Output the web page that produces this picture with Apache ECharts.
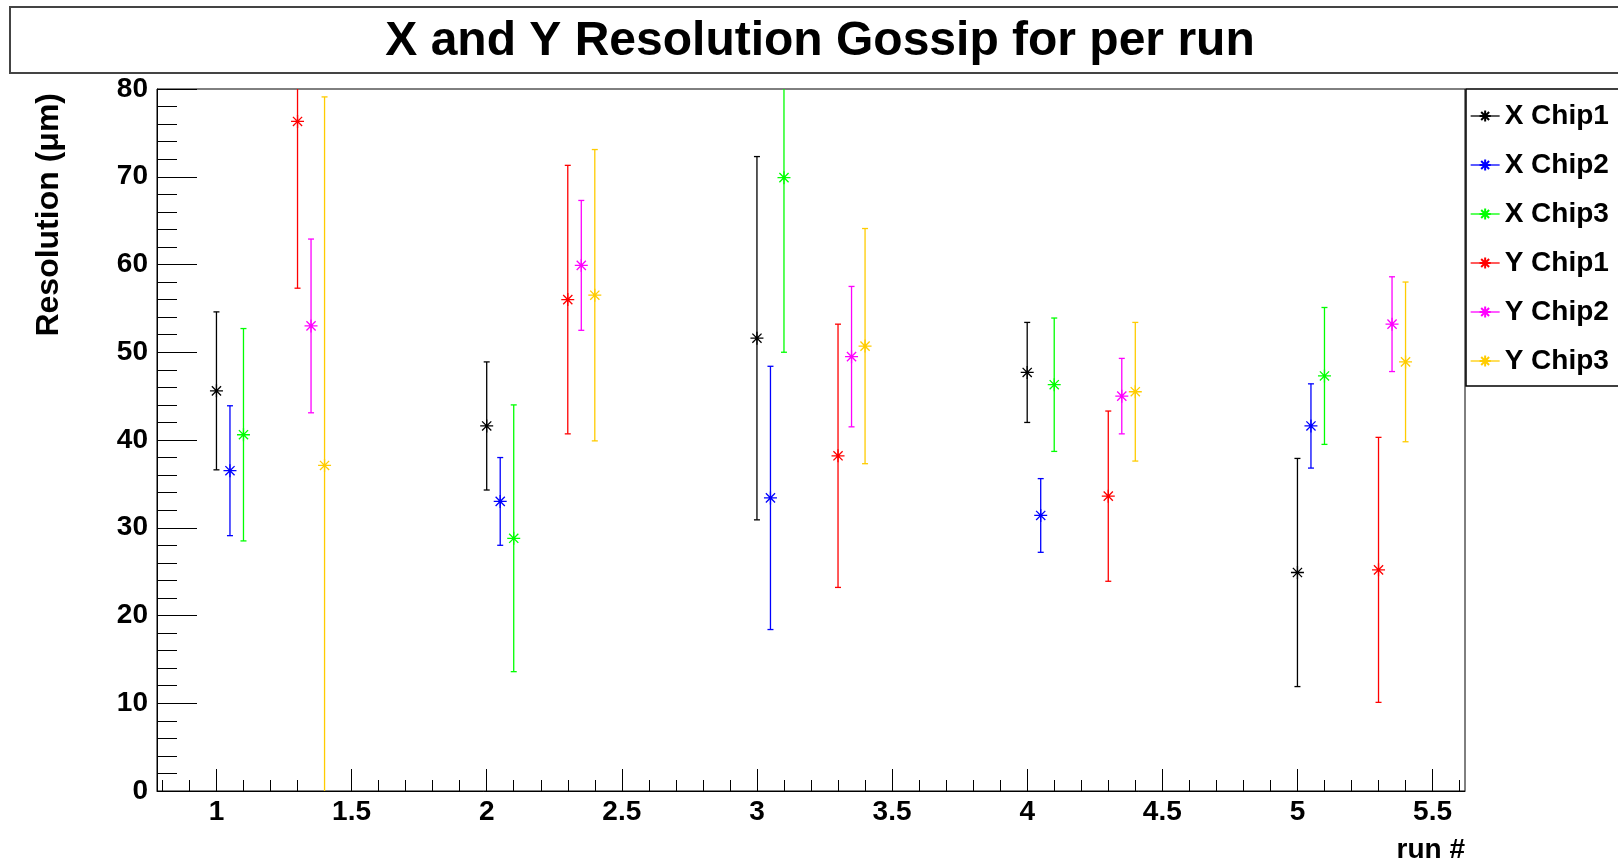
<!DOCTYPE html>
<html>
<head>
<meta charset="utf-8">
<script src="https://cdn.jsdelivr.net/npm/echarts@6/dist/echarts.min.js"></script>
<style>
html,body{margin:0;padding:0;background:#fff;}
#chart{width:1618px;height:862px;}
</style>
</head>
<body>
<div id="chart"></div>
<script>
// ---------------- data ----------------
const chartTitle = 'X and Y Resolution Gossip for per run';
const xAxisName = 'run #';
const yAxisName = 'Resolution (\u03bcm)';
const seriesNames = ['X Chip1', 'X Chip2', 'X Chip3', 'Y Chip1', 'Y Chip2', 'Y Chip3'];
const seriesColors = ['#000000', '#0000ff', '#00ff00', '#ff0000', '#ff00ff', '#ffcc00'];

const xChip1Run = [1, 2, 3, 4, 5];
const xChip1Val = [45.6, 41.6, 51.6, 47.7, 24.9];
const xChip1Err = [9.0, 7.3, 20.7, 5.7, 13.0];

const xChip2Run = [1.05, 2.05, 3.05, 4.05, 5.05];
const xChip2Val = [36.5, 33.0, 33.4, 31.4, 41.6];
const xChip2Err = [7.4, 5.0, 15.0, 4.2, 4.8];

const xChip3Run = [1.1, 2.1, 3.1, 4.1, 5.1];
const xChip3Val = [40.6, 28.8, 69.9, 46.3, 47.3];
const xChip3Err = [12.1, 15.2, 19.9, 7.6, 7.8];

const yChip1Run = [1.3, 2.3, 3.3, 4.3, 5.3];
const yChip1Val = [76.3, 56.0, 38.2, 33.6, 25.2];
const yChip1Err = [19.0, 15.3, 15.0, 9.7, 15.1];

const yChip2Run = [1.35, 2.35, 3.35, 4.35, 5.35];
const yChip2Val = [53.0, 59.9, 49.5, 45.0, 53.2];
const yChip2Err = [9.9, 7.4, 8.0, 4.3, 5.4];

const yChip3Run = [1.4, 2.4, 3.4, 4.4, 5.4];
const yChip3Val = [37.1, 56.5, 50.7, 45.5, 48.9];
const yChip3Err = [42.0, 16.6, 13.4, 7.9, 9.1];

const xMajorTicks = [1, 1.5, 2, 2.5, 3, 3.5, 4, 4.5, 5, 5.5];
const xMinorTicks = [0.8, 0.9, 1.1, 1.2, 1.3, 1.4, 1.6, 1.7, 1.8, 1.9, 2.1, 2.2, 2.3, 2.4,
  2.6, 2.7, 2.8, 2.9, 3.1, 3.2, 3.3, 3.4, 3.6, 3.7, 3.8, 3.9, 4.1, 4.2, 4.3, 4.4,
  4.6, 4.7, 4.8, 4.9, 5.1, 5.2, 5.3, 5.4, 5.6];
const xMin = 0.78, xMax = 5.62;
const yMin = 0, yMax = 80, yStep = 10;

// ---------------- chart ----------------
const groups = [
  [xChip1Run, xChip1Val, xChip1Err],
  [xChip2Run, xChip2Val, xChip2Err],
  [xChip3Run, xChip3Val, xChip3Err],
  [yChip1Run, yChip1Val, yChip1Err],
  [yChip2Run, yChip2Val, yChip2Err],
  [yChip3Run, yChip3Val, yChip3Err]
];

const boldFont = "'Liberation Sans', Arial, sans-serif";
const starPath = 'path://M6,0L6,12M0,6L12,6M1.76,1.76L10.24,10.24M1.76,10.24L10.24,1.76';

const series = [];
groups.forEach(function (g, i) {
  const color = seriesColors[i];
  const errData = g[0].map(function (x, k) { return [x, g[1][k], g[2][k]]; });
  series.push({
    name: seriesNames[i] + ' error',
    type: 'custom',
    xAxisIndex: 0, yAxisIndex: 0,
    clip: true,
    dimensions: ['x', 'y', 'err'],
    encode: { x: 0, y: 1 },
    data: errData,
    z: 2,
    renderItem: function (params, api) {
      const x = api.value(0), y = api.value(1), e = api.value(2);
      const top = api.coord([x, y + e]);
      const bot = api.coord([x, y - e]);
      const hw = 3;
      const st = { stroke: color, lineWidth: 1.3 };
      return {
        type: 'group',
        children: [
          { type: 'line', shape: { x1: top[0], y1: top[1], x2: bot[0], y2: bot[1] }, style: st },
          { type: 'line', shape: { x1: top[0] - hw, y1: top[1], x2: top[0] + hw, y2: top[1] }, style: st },
          { type: 'line', shape: { x1: bot[0] - hw, y1: bot[1], x2: bot[0] + hw, y2: bot[1] }, style: st }
        ]
      };
    }
  });
});
groups.forEach(function (g, i) {
  const color = seriesColors[i];
  series.push({
    name: seriesNames[i],
    type: 'line',
    xAxisIndex: 0, yAxisIndex: 0,
    data: g[0].map(function (x, k) { return [x, g[1][k]]; }),
    symbol: starPath,
    symbolSize: 13,
    showSymbol: true,
    showAllSymbol: true,
    z: 3,
    color: color,
    itemStyle: { color: color, borderColor: color, borderWidth: 1.3 },
    lineStyle: { color: color, width: 0, opacity: 0 }
  });
});

const chart = echarts.init(document.getElementById('chart'), null, { renderer: 'canvas' });
chart.setOption({
  animation: false,
  backgroundColor: '#ffffff',
  title: {
    text: chartTitle,
    left: 820,
    top: 42,
    padding: 0,
    textAlign: 'center',
    textVerticalAlign: 'middle',
    textStyle: { fontFamily: boldFont, fontWeight: 'bold', fontSize: 48, color: '#000' },
    z: 10
  },
  graphic: [{
    type: 'rect',
    shape: { x: 10, y: 7, width: 1700, height: 66 },
    style: { fill: '#ffffff', stroke: '#444444', lineWidth: 2 },
    z: 0
  }],
  legend: {
    data: seriesNames,
    orient: 'vertical',
    left: 1466,
    top: 89,
    padding: [13, 40, 11, 4],
    itemWidth: 29,
    itemHeight: 14,
    itemGap: 21,
    borderColor: '#000',
    borderWidth: 1.5,
    backgroundColor: '#fff',
    textStyle: { fontFamily: boldFont, fontWeight: 'bold', fontSize: 28, color: '#000', lineHeight: 28 },
    lineStyle: { width: 1.3, opacity: 1 }
  },
  grid: {
    left: 157, top: 89, right: 153, bottom: 71,
    outerBoundsMode: 'none',
    containLabel: false,
    show: true, borderColor: '#000', borderWidth: 1, backgroundColor: 'transparent'
  },
  xAxis: [{
    type: 'value',
    min: xMin, max: xMax,
    position: 'bottom',
    name: xAxisName,
    nameLocation: 'end',
    nameGap: 0,
    nameTextStyle: { fontFamily: boldFont, fontWeight: 'bold', fontSize: 28, color: '#000', align: 'right', verticalAlign: 'top', padding: [45, 0, 0, 0] },
    axisLine: { show: true, onZero: false, lineStyle: { color: '#000', width: 1 } },
    axisTick: { show: true, inside: true, length: 22, customValues: xMajorTicks, lineStyle: { color: '#000', width: 1 } },
    axisLabel: { show: true, customValues: xMajorTicks, margin: 7, fontFamily: boldFont, fontWeight: 'bold', fontSize: 28, color: '#000' },
    splitLine: { show: false }
  }, {
    type: 'value',
    min: xMin, max: xMax,
    position: 'bottom',
    axisLine: { show: false },
    axisTick: { show: true, inside: true, length: 11, customValues: xMinorTicks, lineStyle: { color: '#000', width: 1 } },
    axisLabel: { show: false },
    splitLine: { show: false }
  }],
  yAxis: {
    type: 'value',
    min: yMin, max: yMax, interval: yStep,
    name: yAxisName,
    nameLocation: 'end',
    nameRotate: 90,
    nameGap: -4,
    nameTextStyle: { fontFamily: boldFont, fontWeight: 'bold', fontSize: 32, color: '#000', align: 'right', verticalAlign: 'bottom', padding: [0, 0, 92, 0] },
    axisLine: { show: true, onZero: false, lineStyle: { color: '#000', width: 1 } },
    axisTick: { show: true, inside: true, length: 40, lineStyle: { color: '#000', width: 1 } },
    minorTick: { show: true, splitNumber: 5, length: 20, lineStyle: { color: '#000', width: 1 } },
    axisLabel: { margin: 9, fontFamily: boldFont, fontWeight: 'bold', fontSize: 28, color: '#000' },
    splitLine: { show: false },
    minorSplitLine: { show: false }
  },
  series: series
});
</script>
</body>
</html>
